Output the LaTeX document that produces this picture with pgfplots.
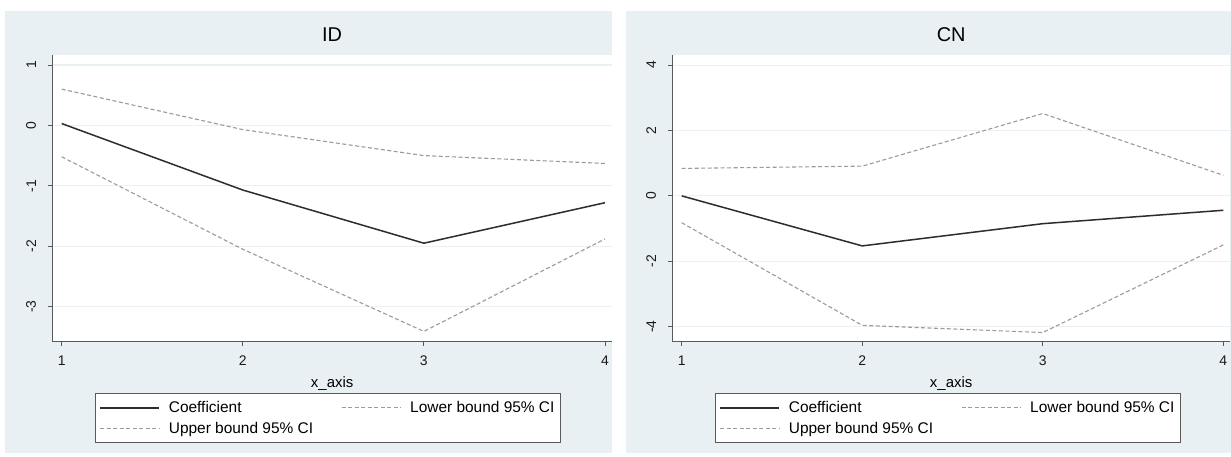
\documentclass[border=0pt]{standalone}
\usepackage{pgfplots}
\pgfplotsset{compat=1.18}
\usepackage{fontspec}
\setmainfont{Liberation Sans}
\definecolor{bgc}{RGB}{233,240,243}
\definecolor{gridc}{RGB}{234,241,243}
\definecolor{axc}{RGB}{90,90,90}
\definecolor{coefc}{RGB}{45,45,45}
\definecolor{cic}{RGB}{155,155,155}
\pgfplotsset{
  stata/.style={
    scale only axis,
    axis x line*=bottom, axis y line*=left,
    axis line style={axc, line width=1bp},
    tick align=outside,
    major tick length=4bp,
    tick style={axc, line width=0.8bp},
    xtick={1,2,3,4},
    ymajorgrids, grid style={gridc, line width=1.2bp},
    axis background/.style={fill=white},
    /pgf/number format/assume math mode=true,
    ticklabel style={font=\fontsize{14}{16}\selectfont, text=black!90},
    yticklabel style={rotate=90, anchor=south, inner sep=0pt},
    xticklabel style={anchor=north, inner sep=0pt},
    yticklabel shift=12bp,
    xticklabel shift=10bp,
    title style={font=\fontsize{20}{24}\selectfont, at={(axis description cs:0.5,1)}, anchor=base, yshift=7.7bp},
    xlabel style={font=\fontsize{15}{18}\selectfont, at={(axis description cs:0.5,0)}, anchor=base, yshift=-46.3bp},
    xlabel={x\_axis},
    legend columns=2,
    legend cell align=left,
    legend image code/.code={\draw[##1] (0bp,0bp) -- (59bp,0bp);},
    legend style={anchor=north west, draw=axc, line width=0.8bp, fill=white,
      font=\fontsize{15.5}{18}\selectfont, inner xsep=4bp, inner ysep=6bp,
      nodes={inner sep=2bp}, row sep=4bp,
      /tikz/every odd column/.append style={column sep=7bp},
      /tikz/every even column/.append style={column sep=26bp}},
  },
  coef/.style={coefc, line width=1.5bp, mark=none},
  ci/.style={cic, line width=1.1bp, dash pattern=on 4bp off 2.5bp, mark=none},
}
\begin{document}
\begin{tikzpicture}[x=1bp,y=1bp]
\fill[white] (0,0) rectangle (1231,457);
\path[use as bounding box] (0,0) rectangle (1231,457);
\fill[bgc] (5,4) rectangle (612,446);
\fill[bgc] (626,4) rectangle (1231,446);

\begin{axis}[stata,
  at={(52.3bp,115.3bp)}, anchor=south west,
  width=559.7bp, height=286.7bp,
  xmin=0.948, xmax=4.039, ymin=-3.58, ymax=1.165,
  ytick={-3,-2,-1,0,1},
  title={ID},
  legend style={at={(axis description cs:0.0763,-0.179)}},
]
\addplot[coef] coordinates {(1,0.03) (2,-1.07) (3,-1.95) (4,-1.28)};
\addlegendentry{Coefficient}
\addplot[ci] coordinates {(1,-0.52) (2,-2.05) (3,-3.41) (4,-1.88)};
\addlegendentry{Lower bound 95\% CI}
\addplot[ci] coordinates {(1,0.60) (2,-0.07) (3,-0.50) (4,-0.63)};
\addlegendentry{Upper bound 95\% CI}
\end{axis}

\begin{axis}[stata,
  at={(672.3bp,115.3bp)}, anchor=south west,
  width=557.7bp, height=286.7bp,
  xmin=0.948, xmax=4.037, ymin=-4.46, ymax=4.31,
  ytick={-4,-2,0,2,4},
  title={CN},
  legend style={at={(axis description cs:0.0765,-0.179)}},
]
\addplot[coef] coordinates {(1,0.0) (2,-1.53) (3,-0.85) (4,-0.44)};
\addlegendentry{Coefficient}
\addplot[ci] coordinates {(1,-0.82) (2,-3.96) (3,-4.18) (4,-1.50)};
\addlegendentry{Lower bound 95\% CI}
\addplot[ci] coordinates {(1,0.84) (2,0.91) (3,2.52) (4,0.63)};
\addlegendentry{Upper bound 95\% CI}
\end{axis}
\end{tikzpicture}
\end{document}
